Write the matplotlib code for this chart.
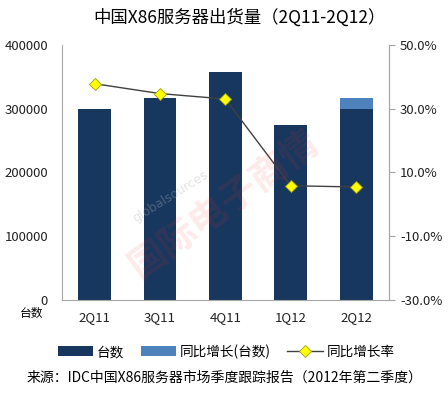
import matplotlib
matplotlib.use("Agg")
import matplotlib.pyplot as plt
import numpy as np
from matplotlib.ticker import FuncFormatter

plt.rcParams["font.family"] = ["Noto Sans CJK SC", "DejaVu Sans"]

# data
quarters = ["2Q11", "3Q11", "4Q11", "1Q12", "2Q12"]
units = [300000, 316000, 357000, 274000, 300000]
yoy_units = [0, 0, 0, 0, 16000]
yoy_rate = [37.8, 34.7, 33.0, 5.8, 5.4]

dark = "#17375e"
light = "#4f81bd"
grey = "#a6a6a6"

fig = plt.figure(figsize=(4.48, 3.93), dpi=100)
ax = fig.add_axes([0.138, 0.237, 0.730, 0.649])
x = np.arange(len(quarters))

ax.bar(x, units, 0.5, color=dark, label="台数", zorder=2)
ax.bar(x, yoy_units, 0.5, bottom=units, color=light, label="同比增长(台数)", zorder=2)
ax.set_ylim(0, 400000)
ax.set_yticks(np.arange(0, 400001, 100000))
ax.set_xlim(-0.5, len(quarters) - 0.5)
ax.set_xticks(x)
ax.set_xticklabels(quarters)
ax.tick_params(axis="both", length=0, labelsize=9.5, colors="#222222")
ax.tick_params(axis="y", pad=10)
ax.tick_params(axis="x", pad=8)
ax.spines["top"].set_visible(False)
for s in ["left", "right", "bottom"]:
    ax.spines[s].set_color(grey)

ax2 = ax.twinx()
ax2.plot(x, yoy_rate, color="#404040", lw=1, marker="D", ms=6,
         mfc="#ffff00", mec="#a0a000", mew=0.6, label="同比增长率", zorder=3)
ax2.set_ylim(-30, 50)
ax2.set_yticks(np.arange(-30, 51, 20))
ax2.yaxis.set_major_formatter(FuncFormatter(lambda v, p: f"{v:.1f}%"))
ax2.tick_params(axis="y", length=4, color=grey, labelsize=9.5, colors="#222222", pad=4)
ax2.spines["top"].set_visible(False)
ax2.spines["right"].set_color(grey)
ax2.spines["left"].set_visible(False)
ax2.spines["bottom"].set_visible(False)

# watermark
fig.text(0.38, 0.50, "globalsources", rotation=32, color="#b0b0b0", alpha=0.35,
         fontsize=9, ha="center", va="center", family="DejaVu Sans")
fig.text(0.50, 0.48, "国际电子商情", rotation=36, color="#ff3030", alpha=0.10,
         fontsize=27, ha="center", va="center", fontweight="bold")

fig.text(0.535, 0.955, "中国X86服务器出货量（2Q11-2Q12）", ha="center", va="center",
         fontsize=12.5)
fig.text(0.07, 0.203, "台数", ha="center", va="center", fontsize=8.5)

h1, l1 = ax.get_legend_handles_labels()
h2, l2 = ax2.get_legend_handles_labels()
fig.legend(h1 + h2, l1 + l2, loc="center", bbox_to_anchor=(0.505, 0.105), ncol=3,
           frameon=False, fontsize=9.8, handlelength=2.6, handleheight=0.7,
           columnspacing=1.2, handletextpad=0.3)

fig.text(0.5, 0.04, "来源：IDC中国X86服务器市场季度跟踪报告（2012年第二季度）",
         ha="center", va="center", fontsize=10)

fig.savefig("out.png", dpi=100)
